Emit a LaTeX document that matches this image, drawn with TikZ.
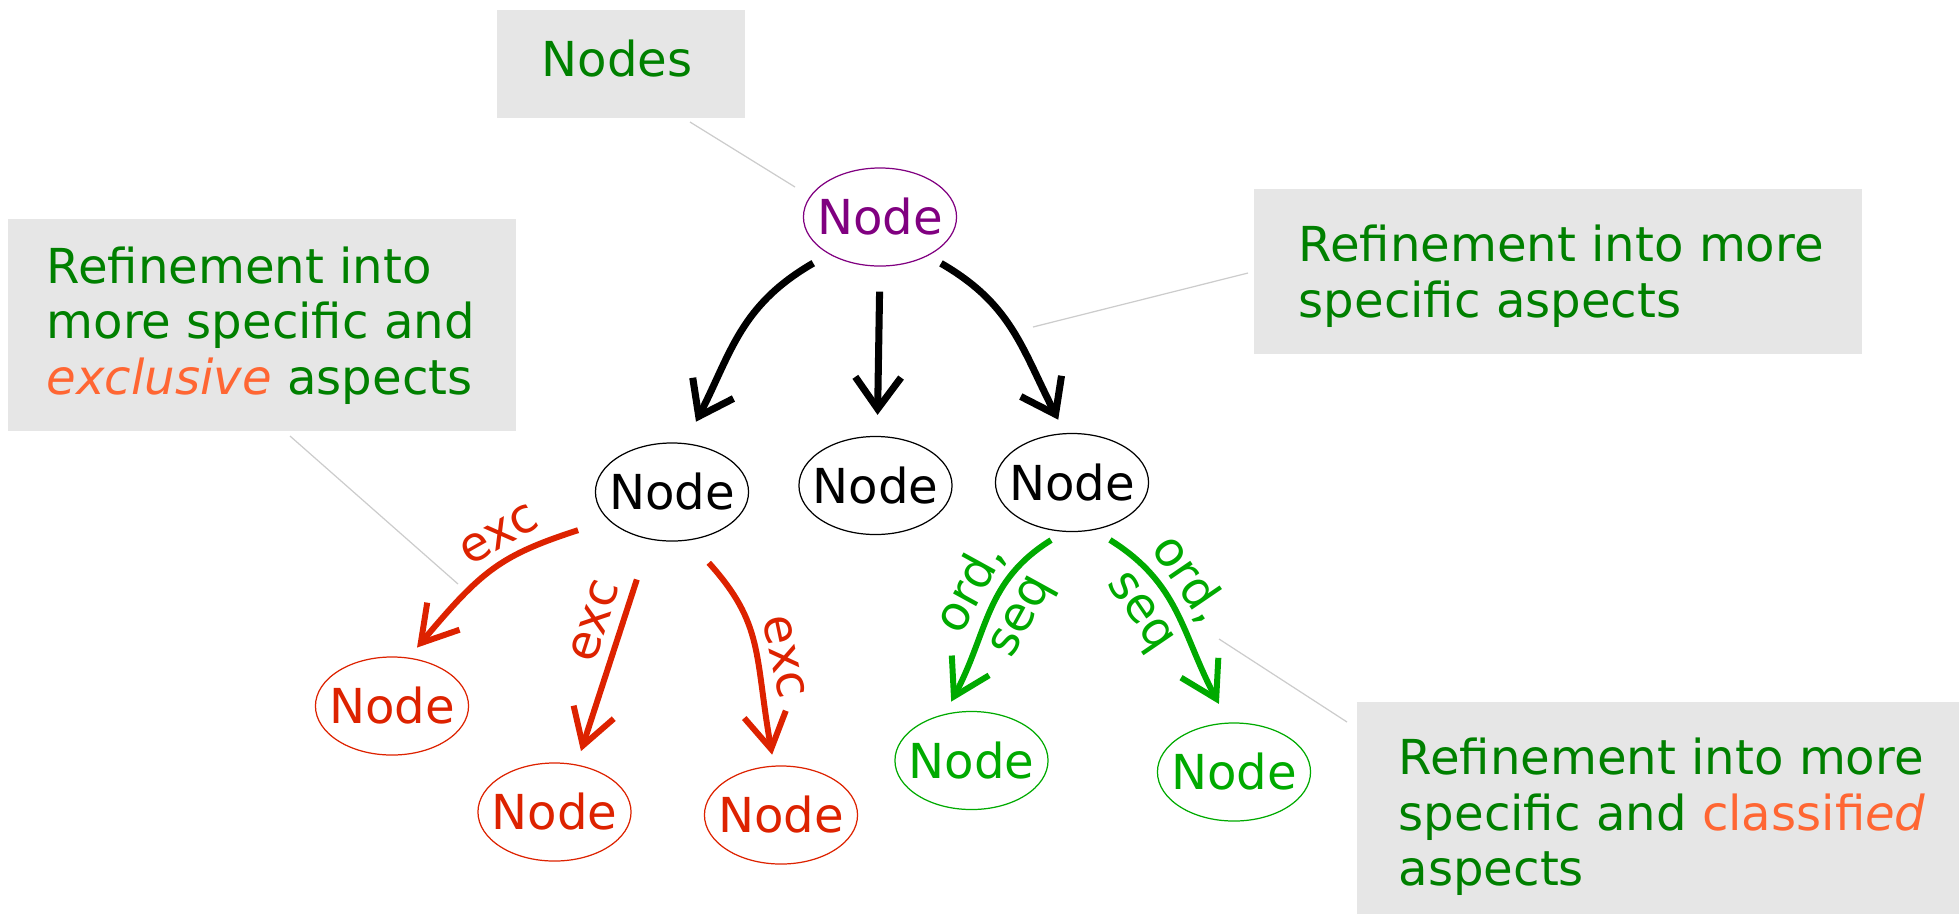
\documentclass[tikz,border=0pt]{standalone}
\usepackage{fontspec}
\setmainfont{DejaVu Sans}
\usetikzlibrary{arrows.meta,shapes.geometric}
\definecolor{txtgreen}{HTML}{008000}
\definecolor{accent}{HTML}{FF6633}
\definecolor{redc}{HTML}{DD2200}
\definecolor{greenc}{HTML}{00AA00}
\definecolor{purplec}{HTML}{800080}
\definecolor{boxgray}{HTML}{E6E6E6}
\definecolor{callgray}{HTML}{CCCCCC}
\newcommand{\nodetxt}{\makebox[0pt]{Node}}
\begin{document}
\begin{tikzpicture}[x=0.01cm,y=-0.01cm,
  every node/.style={font=\fontsize{13.7}{15.8}\selectfont},
  nd/.style={ellipse, draw, line width=0.35pt, minimum width=1.53cm, minimum height=0.98cm, inner sep=0pt},
  box/.style={rectangle, fill=boxgray, inner sep=0pt},
  boxtext/.style={anchor=west, align=left, inner sep=0pt, text=txtgreen},
  callout/.style={draw=callgray, line width=0.35pt},
  blkarr/.style={line width=2pt, -{Straight Barb[length=9pt,width=13pt].}},
  redarr/.style={draw=redc, line width=1.7pt, -{Straight Barb[length=10pt,width=12pt].}},
  grnarr/.style={draw=greenc, line width=1.7pt, -{Straight Barb[length=10pt,width=12pt].}},
  redlbl/.style={text=redc, sloped, above, inner sep=3pt},
  grnlbl/.style={text=greenc, sloped, align=center, inner sep=0pt},
]
\useasboundingbox (0,0) rectangle (1959,914);

% boxes
\node[box, minimum width=2.48cm, minimum height=1.08cm] (nodesbox) at (621,64) {};
\node[text=txtgreen, inner sep=0pt] (nodestxt) at (617,59) {Nodes};

\node[box, minimum width=5.08cm, minimum height=2.12cm] (leftbox) at (262,325) {};
\node[boxtext] (lefttxt) at (46,325.6) {Refinement into\\more specific and\\\textcolor{accent}{\itshape exclusive} aspects};

\node[box, minimum width=6.08cm, minimum height=1.65cm] (rtbox) at (1558,271.5) {};
\node[boxtext] (rttxt) at (1298,276) {Refinement into more\\specific aspects};

\node[box, minimum width=6.02cm, minimum height=2.12cm] (rbbox) at (1658,808) {};
\node[boxtext] (rbtxt) at (1398,817) {Refinement into more\\specific and \textcolor{accent}{classifi\textit{ed}}\\aspects};

% ellipse nodes
\node[nd, draw=purplec, text=purplec] (root) at (880,217) {\nodetxt};
\node[nd] (L1) at (672,492) {\nodetxt};
\node[nd] (M2) at (875.5,485.5) {\nodetxt};
\node[nd] (M3) at (1072,482.5) {\nodetxt};
\node[nd, draw=redc, text=redc] (B1) at (392,706) {\nodetxt};
\node[nd, draw=redc, text=redc] (B2) at (554.5,812) {\nodetxt};
\node[nd, draw=redc, text=redc] (B3) at (781,815) {\nodetxt};
\node[nd, draw=greenc, text=greenc] (G1) at (971.5,760.5) {\nodetxt};
\node[nd, draw=greenc, text=greenc] (G2) at (1234,772) {\nodetxt};

% black arrows
\draw[blkarr, shorten <=0.18cm, shorten >=0.24cm] (root.216) to[out=210,in=63,looseness=1.1] (L1.75);
\draw[blkarr, shorten <=0.25cm, shorten >=0.21cm] (root.270) -- (M2.88);
\draw[blkarr, shorten <=0.15cm, shorten >=0.15cm] (root.321) to[out=-30,in=117,looseness=1.1] (M3.98);

% red arrows
\draw[redarr, shorten <=0.32cm, shorten >=0.13cm] (L1.204) to[out=198,in=50,looseness=1.2]
  node[redlbl, pos=0.4] {exc} (B1.71);
\draw[redarr, shorten <=0.42cm, shorten >=0.14cm] (L1.245) --
  node[redlbl, pos=0.4] {exc} (B2.65);
\draw[redarr, shorten <=0.30cm, shorten >=0.11cm] (L1.289) to[out=-48,in=100,looseness=1.2]
  node[redlbl, pos=0.6] {exc} (B3.98);

% green arrows
\draw[grnarr, shorten <=0.155cm, shorten >=0.14cm] (M3.261) to[out=212,in=62,looseness=1.1]
  node[grnlbl, pos=0.45] {ord,\\seq} (G1.120);
\draw[grnarr, shorten <=0.186cm, shorten >=0.21cm] (M3.295) to[out=-32,in=118,looseness=1.1]
  node[grnlbl, pos=0.4] {ord,\\seq} (G2.96);

% callout lines
\coordinate (c1a) at (690,122);
\coordinate (c1b) at (795,187);
\coordinate (c2a) at (290,436);
\coordinate (c2b) at (458,584);
\coordinate (c3a) at (1248,273);
\coordinate (c3b) at (1033,327);
\coordinate (c4a) at (1219,639);
\coordinate (c4b) at (1347,722);
\draw[callout] (c1a) -- (c1b);
\draw[callout] (c2a) -- (c2b);
\draw[callout] (c3a) -- (c3b);
\draw[callout] (c4a) -- (c4b);
\end{tikzpicture}
\end{document}
